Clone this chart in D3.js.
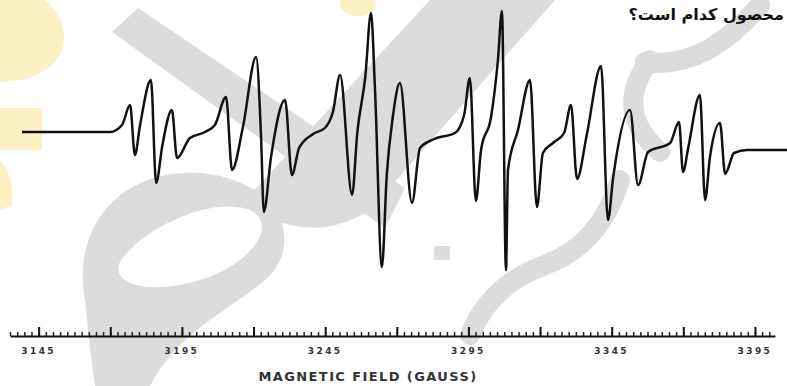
<!DOCTYPE html>
<html>
<head>
<meta charset="utf-8">
<script src="https://cdn.jsdelivr.net/npm/d3@7"></script>
<style>
  body { margin: 0; background: #fff; overflow: hidden; }
  svg { display: block; }
</style>
</head>
<body>
<div id="chart"></div>
<script>
// EPR spectrum: field (G) and signal (arb. units)
const field = [3139.2, 3169.9, 3174.1, 3176.9, 3178.6, 3180.4, 3184.2, 3186.0, 3188.2, 3191.5,
  3193.3, 3197.8, 3203.1, 3206.5, 3210.4, 3212.5, 3216.3, 3220.9, 3222.6, 3223.6, 3226.1,
  3231.0, 3233.4, 3235.9, 3240.8, 3244.9, 3247.7, 3250.2, 3254.4, 3256.2, 3259.0, 3261.0,
  3262.4, 3264.8, 3266.5, 3268.6, 3271.1, 3275.3, 3278.1, 3283.0, 3290.3, 3293.5, 3295.5,
  3297.6, 3299.4, 3302.9, 3305.3, 3306.7, 3308.1, 3308.8, 3312.3, 3316.5, 3318.9, 3321.0,
  3324.5, 3328.4, 3330.8, 3332.9, 3336.3, 3341.3, 3343.7, 3345.5, 3351.4, 3354.2, 3357.7,
  3365.4, 3368.5, 3369.9, 3371.7, 3375.8, 3377.6, 3379.3, 3382.8, 3384.6, 3387.7, 3392.2,
  3406.2];
const signal = [8, 8, 15, 35, -15, 15, 60, -43, -5, 30,
  -18, 2, 8, 15, 43, -30, 13, 83, 5, -72, -17,
  40, -35, -8, 6, 12, 28, 65, -55, 7, 63, 127,
  50, -127, -35, 23, 57, -63, -8, 1, 7, 25, 62,
  -61, -10, 23, 80, 129, -130, -30, 10, 60, -67, -13,
  -3, 7, 35, -39, 5, 74, -80, -38, 30, -45, -12,
  -3, 18, -32, -8, 45, -60, -17, 17, -34, -13, -10,
  -10];

const majorLabels = [3145, 3195, 3245, 3295, 3345, 3395];
const axisTitle = "MAGNETIC FIELD (GAUSS)";
const headText = "محصول کدام است؟";

const width = 787, height = 386;

const svg = d3.select("#chart")
    .append("svg")
    .attr("width", width)
    .attr("height", height);

// watermark behind the chart
const wm = svg.append("g").attr("class", "watermark");
wm.append("path")
    .attr("d", "M0,0 H45 Q70,20 62,50 Q50,75 20,80 L0,82 Z M0,108 H42 V150 H0 Z M0,160 Q14,175 12,205 L0,210 Z")
    .attr("fill", "#fdf1c4");
wm.append("ellipse").attr("cx", 358).attr("cy", 4).attr("rx", 18).attr("ry", 12).attr("fill", "#fdf1c4");
wm.append("path")
    .attr("d", "M112,32 L138,8 L405,188 L385,228 Z")
    .attr("fill", "#dcdcdc");
wm.append("path")
    .attr("fill-rule", "evenodd")
    .attr("d", "M85,300 C70,220 130,160 215,175 C290,190 300,250 265,280 C230,310 180,330 150,386 L95,386 C90,350 88,330 85,300 Z " +
        "M120,262 C140,230 210,195 250,210 C280,225 250,265 200,280 C150,295 110,285 120,262 Z")
    .attr("fill", "#dcdcdc");
wm.append("path")
    .attr("d", "M430,0 L555,0 L370,210 Q330,235 290,225 Q250,215 245,200 Z")
    .attr("fill", "#dcdcdc");
wm.append("path")
    .attr("d", "M760,5 Q705,70 645,62 M650,60 Q612,110 660,152 M620,180 Q600,245 545,265 Q490,285 470,335")
    .attr("fill", "none")
    .attr("stroke", "#dcdcdc")
    .attr("stroke-width", 20)
    .attr("stroke-linecap", "round");
wm.append("rect").attr("x", 434).attr("y", 246).attr("width", 16).attr("height", 14).attr("fill", "#dcdcdc");

// scales
const x = d3.scaleLinear().domain([3135, 3402]).range([10, 775]);
const y = d3.scaleLinear().domain([-140, 140]).range([280, 0]);

const points = field.map((f, i) => ({ f: f, s: signal[i] }));

const line = d3.line()
    .x(d => x(d.f))
    .y(d => y(d.s))
    .curve(d3.curveMonotoneX);

svg.append("path")
    .datum(points)
    .attr("d", line)
    .attr("fill", "none")
    .attr("stroke", "#111")
    .attr("stroke-width", 2.5)
    .attr("stroke-linejoin", "round");

// field axis: minor ticks every 2.5 G, major every 25 G
const axisY = 336;
const minor = d3.range(3135, 3402.1, 2.5);
const major = d3.range(3145, 3401, 25);

svg.append("g")
    .attr("transform", `translate(0,${axisY})`)
    .call(d3.axisTop(x).tickValues(minor).tickSize(4).tickSizeOuter(0).tickFormat(""))
    .call(g => g.select(".domain").attr("stroke", "#111").attr("stroke-width", 2))
    .call(g => g.selectAll(".tick line").attr("stroke", "#222").attr("stroke-width", 1.5));

svg.append("g")
    .attr("transform", `translate(0,${axisY})`)
    .call(d3.axisTop(x).tickValues(major).tickSize(9).tickSizeOuter(0).tickFormat(""))
    .call(g => g.select(".domain").remove())
    .call(g => g.selectAll(".tick line").attr("stroke", "#111").attr("stroke-width", 2));

svg.append("g")
    .selectAll("text")
    .data(majorLabels)
    .enter()
    .append("text")
    .attr("x", d => x(d))
    .attr("y", 354)
    .attr("text-anchor", "middle")
    .attr("font-family", "DejaVu Sans, sans-serif")
    .attr("font-weight", "bold")
    .attr("font-size", 9)
    .attr("letter-spacing", 2.4)
    .attr("fill", "#333")
    .text(d => d);

svg.append("text")
    .attr("x", 368)
    .attr("y", 381)
    .attr("text-anchor", "middle")
    .attr("font-family", "DejaVu Sans, sans-serif")
    .attr("font-weight", "bold")
    .attr("font-size", 13)
    .attr("letter-spacing", 1.4)
    .attr("fill", "#333")
    .text(axisTitle);

// question text at top right, kept inside the frame
const head = svg.append("text")
    .attr("x", 0)
    .attr("y", 20)
    .attr("font-family", "DejaVu Sans, sans-serif")
    .attr("font-weight", "bold")
    .attr("font-size", 16)
    .attr("fill", "#111")
    .text(headText);
const hb = head.node().getBBox();
head.attr("x", 784 - (hb.x + hb.width));
</script>
</body>
</html>
